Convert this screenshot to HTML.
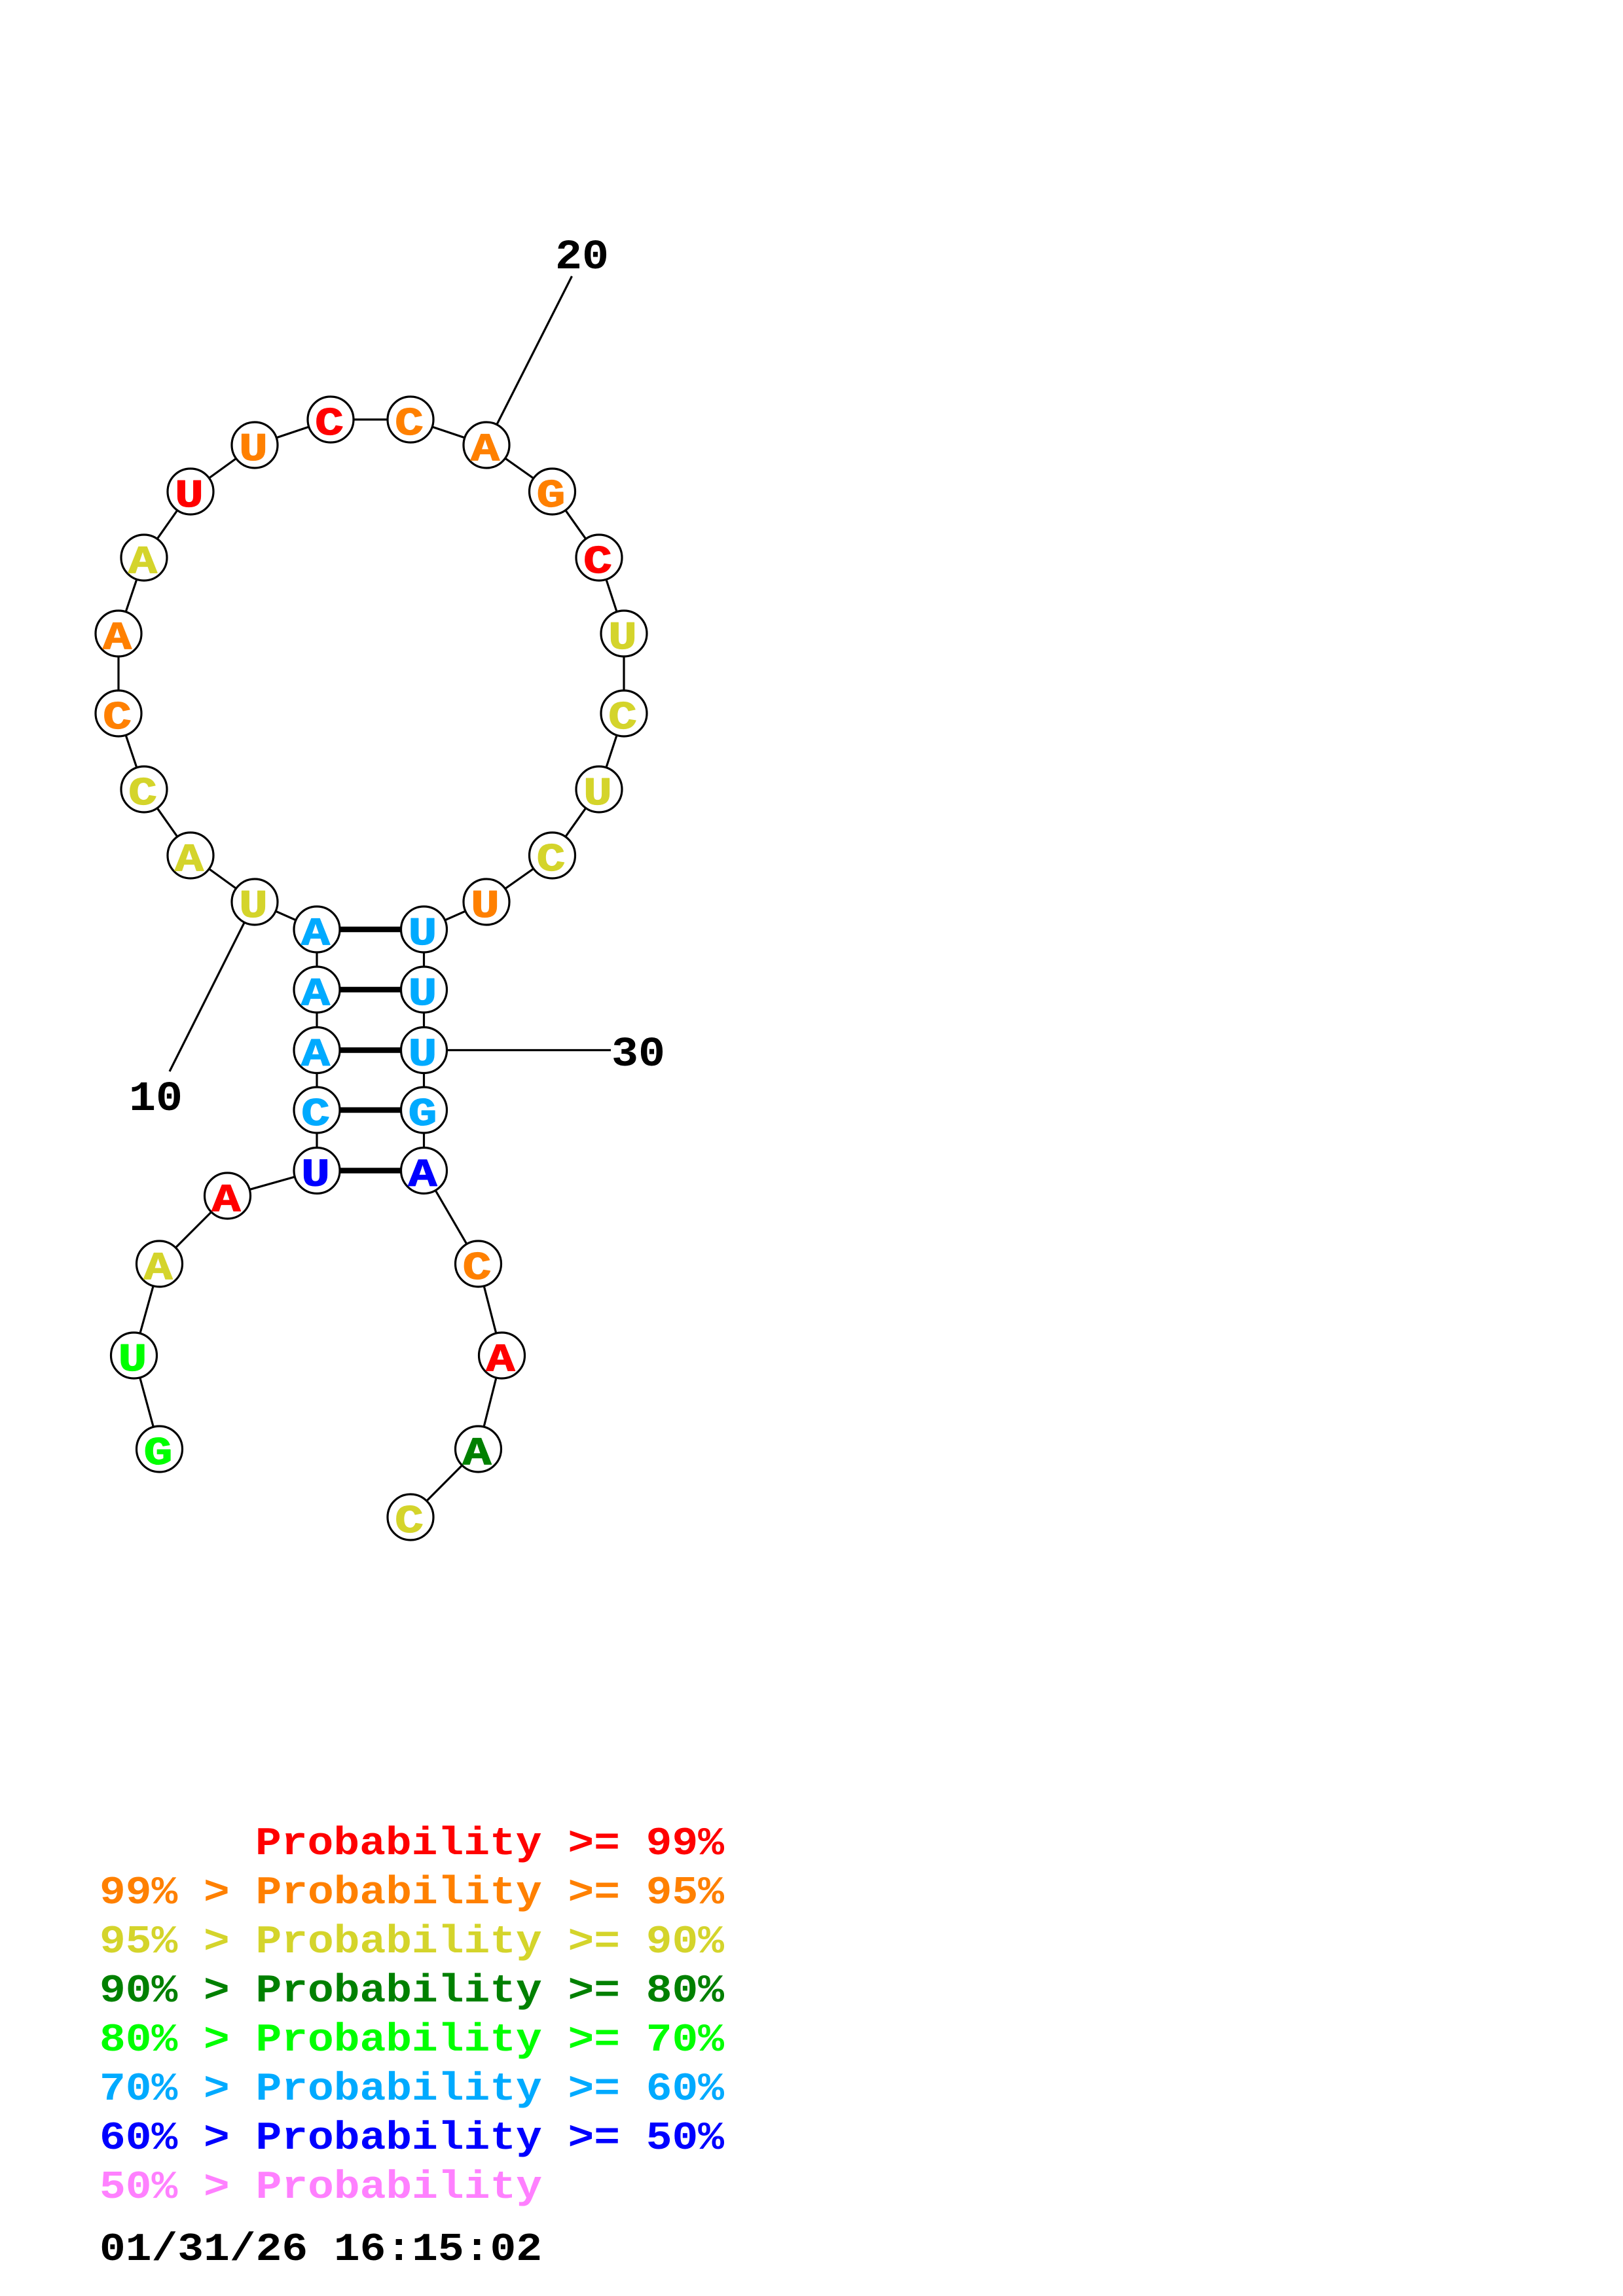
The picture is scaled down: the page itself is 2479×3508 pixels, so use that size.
<!DOCTYPE html>
<html><head><meta charset="utf-8"><style>
html,body{margin:0;padding:0;background:#fff}
svg{display:block}
.n{font:bold 60px "Liberation Mono",monospace;text-anchor:middle;stroke-width:1.2;paint-order:stroke;stroke-linejoin:round}
.t{font:bold 60px "Liberation Mono",monospace;white-space:pre}
.l{font:bold 64px "Liberation Mono",monospace;fill:#000}
</style></head><body>
<svg width="2479" height="3508" viewBox="0 0 2479 3508" xmlns="http://www.w3.org/2000/svg">
<rect width="2479" height="3508" fill="#fff"/>
<polyline fill="none" stroke="#000" stroke-width="3.2" points="243.5,2214 204.5,2071 243.5,1931 347.5,1827 484,1788.5 484,1696 484,1604.5 484,1512 484,1420 389,1378 291,1307 220,1206 181,1090 181,968 220,852 291,751 389,680 505,641 627,641 743,680 843.5,751 915,852 953,968 953,1090 915,1206 843.5,1307 743,1378 647.5,1420 647.5,1512 647.5,1604.5 647.5,1696 647.5,1788.5 730.5,1931 766.5,2071 730.5,2214 627,2318"/>
<g stroke="#000" stroke-width="8.5">
<line x1="484" y1="1420" x2="647.5" y2="1420"/><line x1="484" y1="1512" x2="647.5" y2="1512"/><line x1="484" y1="1604.5" x2="647.5" y2="1604.5"/><line x1="484" y1="1696" x2="647.5" y2="1696"/><line x1="484" y1="1788.5" x2="647.5" y2="1788.5"/>
</g>
<g stroke="#000" stroke-width="3.2">
<line x1="743" y1="680" x2="873.5" y2="422"/><line x1="389" y1="1378" x2="259" y2="1637"/><line x1="647.5" y1="1604.5" x2="933" y2="1604.5"/>
</g>
<g fill="#fff" stroke="#000" stroke-width="3.2">
<circle cx="243.5" cy="2214" r="35"/><circle cx="204.5" cy="2071" r="35"/><circle cx="243.5" cy="1931" r="35"/><circle cx="347.5" cy="1827" r="35"/><circle cx="484" cy="1788.5" r="35"/><circle cx="484" cy="1696" r="35"/><circle cx="484" cy="1604.5" r="35"/><circle cx="484" cy="1512" r="35"/><circle cx="484" cy="1420" r="35"/><circle cx="389" cy="1378" r="35"/><circle cx="291" cy="1307" r="35"/><circle cx="220" cy="1206" r="35"/><circle cx="181" cy="1090" r="35"/><circle cx="181" cy="968" r="35"/><circle cx="220" cy="852" r="35"/><circle cx="291" cy="751" r="35"/><circle cx="389" cy="680" r="35"/><circle cx="505" cy="641" r="35"/><circle cx="627" cy="641" r="35"/><circle cx="743" cy="680" r="35"/><circle cx="843.5" cy="751" r="35"/><circle cx="915" cy="852" r="35"/><circle cx="953" cy="968" r="35"/><circle cx="953" cy="1090" r="35"/><circle cx="915" cy="1206" r="35"/><circle cx="843.5" cy="1307" r="35"/><circle cx="743" cy="1378" r="35"/><circle cx="647.5" cy="1420" r="35"/><circle cx="647.5" cy="1512" r="35"/><circle cx="647.5" cy="1604.5" r="35"/><circle cx="647.5" cy="1696" r="35"/><circle cx="647.5" cy="1788.5" r="35"/><circle cx="730.5" cy="1931" r="35"/><circle cx="766.5" cy="2071" r="35"/><circle cx="730.5" cy="2214" r="35"/><circle cx="627" cy="2318" r="35"/>
</g>
<text class="n" x="241.5" y="2237" textLength="44" lengthAdjust="spacingAndGlyphs" fill="#00ff00" stroke="#00ff00">G</text>
<text class="n" x="202.5" y="2094" textLength="44" lengthAdjust="spacingAndGlyphs" fill="#00ff00" stroke="#00ff00">U</text>
<text class="n" x="241.5" y="1954" textLength="44" lengthAdjust="spacingAndGlyphs" fill="#d4d42b" stroke="#d4d42b">A</text>
<text class="n" x="345.5" y="1850" textLength="44" lengthAdjust="spacingAndGlyphs" fill="#ff0000" stroke="#ff0000">A</text>
<text class="n" x="482" y="1811.5" textLength="44" lengthAdjust="spacingAndGlyphs" fill="#0000ff" stroke="#0000ff">U</text>
<text class="n" x="482" y="1719" textLength="44" lengthAdjust="spacingAndGlyphs" fill="#00aaff" stroke="#00aaff">C</text>
<text class="n" x="482" y="1627.5" textLength="44" lengthAdjust="spacingAndGlyphs" fill="#00aaff" stroke="#00aaff">A</text>
<text class="n" x="482" y="1535" textLength="44" lengthAdjust="spacingAndGlyphs" fill="#00aaff" stroke="#00aaff">A</text>
<text class="n" x="482" y="1443" textLength="44" lengthAdjust="spacingAndGlyphs" fill="#00aaff" stroke="#00aaff">A</text>
<text class="n" x="387" y="1401" textLength="44" lengthAdjust="spacingAndGlyphs" fill="#d4d42b" stroke="#d4d42b">U</text>
<text class="n" x="289" y="1330" textLength="44" lengthAdjust="spacingAndGlyphs" fill="#d4d42b" stroke="#d4d42b">A</text>
<text class="n" x="218" y="1229" textLength="44" lengthAdjust="spacingAndGlyphs" fill="#d4d42b" stroke="#d4d42b">C</text>
<text class="n" x="179" y="1113" textLength="44" lengthAdjust="spacingAndGlyphs" fill="#ff8000" stroke="#ff8000">C</text>
<text class="n" x="179" y="991" textLength="44" lengthAdjust="spacingAndGlyphs" fill="#ff8000" stroke="#ff8000">A</text>
<text class="n" x="218" y="875" textLength="44" lengthAdjust="spacingAndGlyphs" fill="#d4d42b" stroke="#d4d42b">A</text>
<text class="n" x="289" y="774" textLength="44" lengthAdjust="spacingAndGlyphs" fill="#ff0000" stroke="#ff0000">U</text>
<text class="n" x="387" y="703" textLength="44" lengthAdjust="spacingAndGlyphs" fill="#ff8000" stroke="#ff8000">U</text>
<text class="n" x="503" y="664" textLength="44" lengthAdjust="spacingAndGlyphs" fill="#ff0000" stroke="#ff0000">C</text>
<text class="n" x="625" y="664" textLength="44" lengthAdjust="spacingAndGlyphs" fill="#ff8000" stroke="#ff8000">C</text>
<text class="n" x="741" y="703" textLength="44" lengthAdjust="spacingAndGlyphs" fill="#ff8000" stroke="#ff8000">A</text>
<text class="n" x="841.5" y="774" textLength="44" lengthAdjust="spacingAndGlyphs" fill="#ff8000" stroke="#ff8000">G</text>
<text class="n" x="913" y="875" textLength="44" lengthAdjust="spacingAndGlyphs" fill="#ff0000" stroke="#ff0000">C</text>
<text class="n" x="951" y="991" textLength="44" lengthAdjust="spacingAndGlyphs" fill="#d4d42b" stroke="#d4d42b">U</text>
<text class="n" x="951" y="1113" textLength="44" lengthAdjust="spacingAndGlyphs" fill="#d4d42b" stroke="#d4d42b">C</text>
<text class="n" x="913" y="1229" textLength="44" lengthAdjust="spacingAndGlyphs" fill="#d4d42b" stroke="#d4d42b">U</text>
<text class="n" x="841.5" y="1330" textLength="44" lengthAdjust="spacingAndGlyphs" fill="#d4d42b" stroke="#d4d42b">C</text>
<text class="n" x="741" y="1401" textLength="44" lengthAdjust="spacingAndGlyphs" fill="#ff8000" stroke="#ff8000">U</text>
<text class="n" x="645.5" y="1443" textLength="44" lengthAdjust="spacingAndGlyphs" fill="#00aaff" stroke="#00aaff">U</text>
<text class="n" x="645.5" y="1535" textLength="44" lengthAdjust="spacingAndGlyphs" fill="#00aaff" stroke="#00aaff">U</text>
<text class="n" x="645.5" y="1627.5" textLength="44" lengthAdjust="spacingAndGlyphs" fill="#00aaff" stroke="#00aaff">U</text>
<text class="n" x="645.5" y="1719" textLength="44" lengthAdjust="spacingAndGlyphs" fill="#00aaff" stroke="#00aaff">G</text>
<text class="n" x="645.5" y="1811.5" textLength="44" lengthAdjust="spacingAndGlyphs" fill="#0000ff" stroke="#0000ff">A</text>
<text class="n" x="728.5" y="1954" textLength="44" lengthAdjust="spacingAndGlyphs" fill="#ff8000" stroke="#ff8000">C</text>
<text class="n" x="764.5" y="2094" textLength="44" lengthAdjust="spacingAndGlyphs" fill="#ff0000" stroke="#ff0000">A</text>
<text class="n" x="728.5" y="2237" textLength="44" lengthAdjust="spacingAndGlyphs" fill="#008000" stroke="#008000">A</text>
<text class="n" x="625" y="2341" textLength="44" lengthAdjust="spacingAndGlyphs" fill="#d4d42b" stroke="#d4d42b">C</text>
<text class="l" x="848" y="410" textLength="82" lengthAdjust="spacingAndGlyphs">20</text>
<text class="l" x="197" y="1696" textLength="82" lengthAdjust="spacingAndGlyphs">10</text>
<text class="l" x="934" y="1628" textLength="82" lengthAdjust="spacingAndGlyphs">30</text>
<text class="t" xml:space="preserve" x="390" y="2833" fill="#ff0000" textLength="716" lengthAdjust="spacingAndGlyphs">Probability &gt;= 99%</text>
<text class="t" xml:space="preserve" x="152" y="2908" fill="#ff8000" textLength="954" lengthAdjust="spacingAndGlyphs">99% &gt; Probability &gt;= 95%</text>
<text class="t" xml:space="preserve" x="152" y="2983" fill="#d4d42b" textLength="954" lengthAdjust="spacingAndGlyphs">95% &gt; Probability &gt;= 90%</text>
<text class="t" xml:space="preserve" x="152" y="3058" fill="#008000" textLength="954" lengthAdjust="spacingAndGlyphs">90% &gt; Probability &gt;= 80%</text>
<text class="t" xml:space="preserve" x="152" y="3133" fill="#00ff00" textLength="954" lengthAdjust="spacingAndGlyphs">80% &gt; Probability &gt;= 70%</text>
<text class="t" xml:space="preserve" x="152" y="3208" fill="#00aaff" textLength="954" lengthAdjust="spacingAndGlyphs">70% &gt; Probability &gt;= 60%</text>
<text class="t" xml:space="preserve" x="152" y="3283" fill="#0000ff" textLength="954" lengthAdjust="spacingAndGlyphs">60% &gt; Probability &gt;= 50%</text>
<text class="t" xml:space="preserve" x="152" y="3358" fill="#ff80ff" textLength="676" lengthAdjust="spacingAndGlyphs">50% &gt; Probability</text>
<text class="t" xml:space="preserve" x="152" y="3453" fill="#000" textLength="676" lengthAdjust="spacingAndGlyphs">01/31/26 16:15:02</text>
</svg>
</body></html>
